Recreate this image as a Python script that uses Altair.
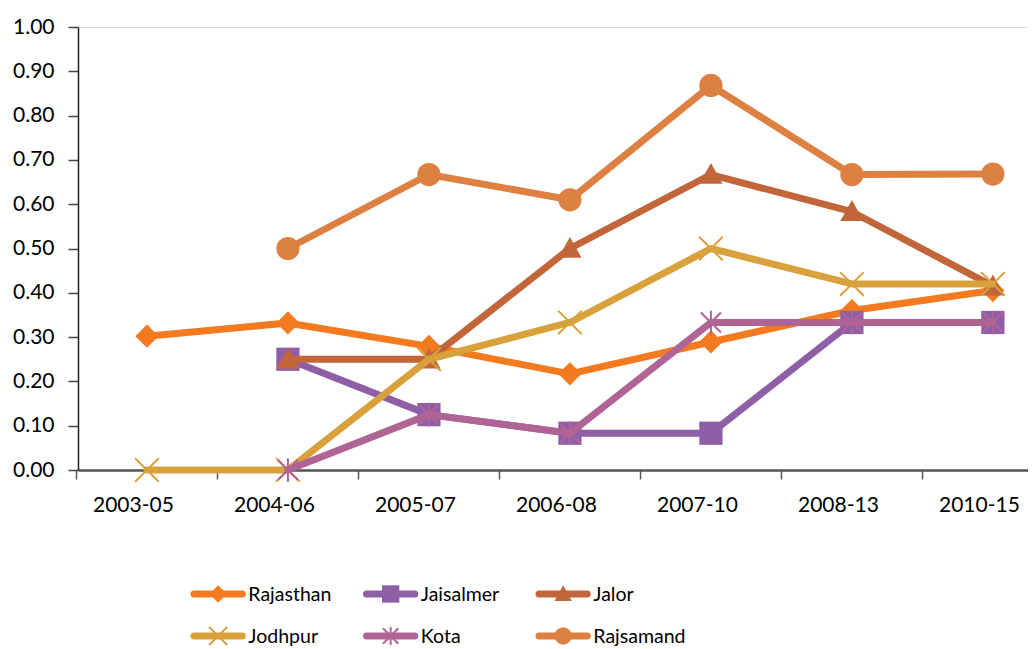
import altair as alt
import pandas as pd

categories = ["2003-05", "2004-06", "2005-07", "2006-08", "2007-10", "2008-13", "2010-15"]
series = ["Rajasthan", "Jaisalmer", "Jalor", "Jodhpur", "Kota", "Rajsamand"]
rajasthan = [0.302, 0.332, 0.279, 0.217, 0.289, 0.360, 0.405]
jaisalmer = [None, 0.250, 0.125, 0.083, 0.083, 0.333, 0.333]
jalor = [None, 0.250, 0.250, 0.500, 0.667, 0.583, 0.415]
jodhpur = [0.0, 0.0, 0.250, 0.333, 0.500, 0.420, 0.420]
kota = [None, 0.0, 0.125, 0.083, 0.333, 0.333, 0.333]
rajsamand = [None, 0.500, 0.667, 0.610, 0.868, 0.667, 0.668]
values = [rajasthan, jaisalmer, jalor, jodhpur, kota, rajsamand]

colors = ["#F47A20", "#8E5EA7", "#C2663A", "#D9A13C", "#B06496", "#DD8142"]
shapes = [
    "M0,-1L1,0L0,1L-1,0Z",
    "M-1,-1L1,-1L1,1L-1,1Z",
    "M0,-1L1,0.8L-1,0.8Z",
    "M-1,-1L1,1M-1,1L1,-1",
    "M-0.85,-0.85L0.85,0.85M-0.85,0.85L0.85,-0.85M0,-1L0,1",
    "circle",
]
stroked = [False, False, False, True, True, False]

rows = []
for s, vals in zip(series, values):
    for i, v in enumerate(vals):
        if v is not None:
            rows.append({"series": s, "idx": i, "cat": categories[i], "value": v})
df = pd.DataFrame(rows)

FONT = "Lato"
W, H = 950, 443
label_expr = "[" + ",".join("'%s'" % c for c in categories) + "][datum.value]"

x_enc = alt.X(
    "idx:Q",
    scale=alt.Scale(domain=[-0.489, 6.249], nice=False, zero=False),
    axis=alt.Axis(
        values=list(range(len(categories))),
        labelExpr=label_expr,
        tickOffset=-70.5,
        labelOffset=56.5,
        tickSize=9,
        tickWidth=1.5,
        tickColor="#555555",
        domainColor="#555555",
        domainWidth=2.5,
        labelFont=FONT,
        labelFontSize=21,
        labelColor="#000000",
        labelPadding=15,
        labelFlush=False,
        grid=False,
        title=None,
    ),
)
y_enc = alt.Y(
    "value:Q",
    scale=alt.Scale(domain=[0, 1], nice=False),
    axis=alt.Axis(
        values=[round(i * 0.1, 1) for i in range(11)],
        format=".2f",
        tickSize=10,
        tickWidth=1.5,
        tickColor="#444444",
        domainColor="#222222",
        domainWidth=1.5,
        labelFont=FONT,
        labelFontSize=21,
        labelColor="#000000",
        labelPadding=14,
        grid=False,
        title=None,
    ),
)

layers = []
for s, c, shp, st in zip(series, colors, shapes, stroked):
    base = alt.Chart(df).transform_filter(alt.datum.series == s)
    layers.append(
        base.mark_line(strokeWidth=7, strokeCap="round", strokeJoin="round", color=c)
        .encode(x=x_enc, y=y_enc)
    )
    if st:
        pt = base.mark_point(shape=shp, size=560, filled=False, stroke=c, strokeWidth=2, opacity=1)
    else:
        pt = base.mark_point(shape=shp, size=540, filled=True, fill=c, opacity=1, strokeWidth=0)
    layers.append(pt.encode(x=x_enc, y=y_enc))

main = alt.layer(*layers)

# legend built from series order
leg = pd.DataFrame({
    "series": series,
    "col": [i % 3 for i in range(len(series))],
    "row": [i // 3 for i in range(len(series))],
})
lx = alt.Scale(domain=[-0.6725, 4.835], nice=False, zero=False)
ly = alt.Scale(domain=[-13.5, -2.952], nice=False, zero=False, reverse=True)
cscale = alt.Scale(domain=series, range=colors)
sscale = alt.Scale(domain=series, range=shapes)

lbase = alt.Chart(leg).transform_calculate(
    x0="datum.col", x1="datum.col + 0.28", xm="datum.col + 0.14", xt="datum.col + 0.315"
)
leg_line = lbase.mark_rule(strokeWidth=7, strokeCap="round").encode(
    x=alt.X("x0:Q", scale=lx, axis=None),
    x2="x1:Q",
    y=alt.Y("row:Q", scale=ly, axis=None),
    color=alt.Color("series:N", scale=cscale, legend=None),
)
leg_fill = lbase.transform_filter(
    alt.FieldOneOfPredicate(field="series", oneOf=[s for s, st in zip(series, stroked) if not st])
).mark_point(size=300, filled=True, opacity=1, strokeWidth=0).encode(
    x=alt.X("xm:Q", scale=lx, axis=None),
    y=alt.Y("row:Q", scale=ly, axis=None),
    fill=alt.Fill("series:N", scale=cscale, legend=None),
    shape=alt.Shape("series:N", scale=sscale, legend=None),
)
leg_stroke = lbase.transform_filter(
    alt.FieldOneOfPredicate(field="series", oneOf=[s for s, st in zip(series, stroked) if st])
).mark_point(size=330, filled=False, opacity=1, strokeWidth=2).encode(
    x=alt.X("xm:Q", scale=lx, axis=None),
    y=alt.Y("row:Q", scale=ly, axis=None),
    stroke=alt.Stroke("series:N", scale=cscale, legend=None),
    shape=alt.Shape("series:N", scale=sscale, legend=None),
)
leg_text = lbase.mark_text(align="left", baseline="middle", font=FONT, fontSize=19.5, color="#000000", dy=1).encode(
    x=alt.X("xt:Q", scale=lx, axis=None),
    y=alt.Y("row:Q", scale=ly, axis=None),
    text="series:N",
)
legend = alt.layer(leg_line, leg_fill, leg_stroke, leg_text)

chart = (
    alt.layer(main, legend)
    .resolve_scale(x="independent", y="independent", color="independent", shape="independent")
    .properties(width=W, height=H, padding={"left": 4, "top": 8, "right": 0, "bottom": 0})
    .configure_view(stroke=None)
    .configure(background="white")
)

chart.save("out.html", embed_options={"renderer": "svg", "actions": False})
